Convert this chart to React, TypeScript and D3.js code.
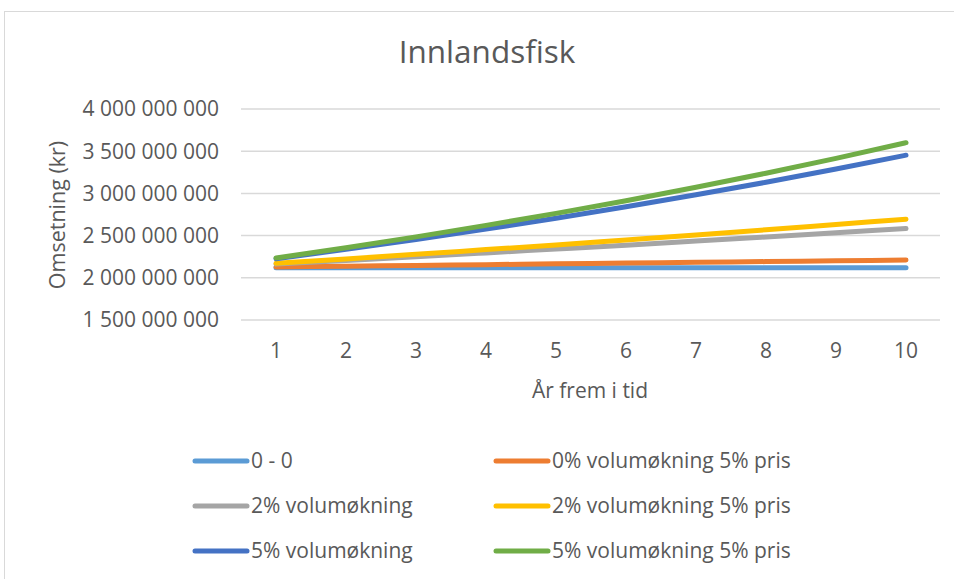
import React from "react";
import * as d3 from "d3";

const years = [1, 2, 3, 4, 5, 6, 7, 8, 9, 10];
const yTicks = [1500000000, 2000000000, 2500000000, 3000000000, 3500000000, 4000000000];

// values in millions kr
const s00 = [2120, 2120, 2120, 2120, 2120, 2120, 2120, 2120, 2120, 2120];
const s0v5p = [2129, 2138, 2147, 2156, 2165, 2174, 2183, 2192, 2201, 2210];
const s2v = [2162, 2206, 2250, 2295, 2341, 2387, 2435, 2484, 2534, 2584];
const s2v5p = [2172, 2224, 2278, 2334, 2390, 2449, 2508, 2569, 2632, 2695];
const s5v = [2226, 2337, 2454, 2577, 2706, 2841, 2983, 3132, 3289, 3453];
const s5v5p = [2235, 2357, 2485, 2621, 2763, 2913, 3072, 3239, 3415, 3601];

const seriesNames = [
  "0 - 0",
  "0% volumøkning 5% pris",
  "2% volumøkning",
  "2% volumøkning 5% pris",
  "5% volumøkning",
  "5% volumøkning 5% pris",
];
const seriesValues = [s00, s0v5p, s2v, s2v5p, s5v, s5v5p];
const colors = ["#5B9BD5", "#ED7D31", "#A5A5A5", "#FFC000", "#4472C4", "#70AD47"];

const W = 954;
const H = 579;
const FONT = "'Open Sans', sans-serif";
const TXT = "#595959";
const FS = 21;

export default function App() {
  const x = d3.scalePoint<number>().domain(years).range([241, 941]).padding(0.5);
  const y = d3.scaleLinear().domain([1500000000, 4000000000]).range([320, 109]);
  const loc = d3.formatLocale({ decimal: ",", thousands: "\u00a0", grouping: [3], currency: ["", " kr"] });
  const fmt = loc.format(",.0f");
  const line = d3
    .line<number>()
    .x((_, i) => x(years[i]) as number)
    .y((v) => y(v * 1e6))
    .curve(d3.curveMonotoneX);

  const legendCols = [193, 494];
  const legendRows = [461, 506, 551];

  return (
    <svg
      width={W}
      height={H}
      style={{ position: "absolute", left: 0, top: 0, background: "#fff" }}
      fontFamily={FONT}
    >
      <rect x={0} y={0} width={W} height={H} fill="#fff" />
      <rect x={4.5} y={11.5} width={1200} height={1200} fill="none" stroke="#d9d9d9" strokeWidth={1} />
      <text x={487} y={63} textAnchor="middle" fontSize={31.5} fill={TXT}>
        Innlandsfisk
      </text>
      {yTicks.map((t) => (
        <g key={t}>
          <line x1={241} x2={940} y1={y(t)} y2={y(t)} stroke="#d9d9d9" strokeWidth={1.5} />
          <text x={219} y={y(t)} dy="0.35em" textAnchor="end" fontSize={FS} fill={TXT}>
            {fmt(t)}
          </text>
        </g>
      ))}
      {years.map((yr) => (
        <text key={yr} x={x(yr)} y={358} textAnchor="middle" fontSize={FS} fill={TXT}>
          {yr}
        </text>
      ))}
      <text x={590} y={398} textAnchor="middle" fontSize={FS} fill={TXT}>
        År frem i tid
      </text>
      <text
        transform={`translate(65,215) rotate(-90)`}
        textAnchor="middle"
        fontSize={21.5}
        fill={TXT}
      >
        Omsetning (kr)
      </text>
      {seriesValues.map((vals, i) => (
        <path
          key={seriesNames[i]}
          d={line(vals) || ""}
          fill="none"
          stroke={colors[i]}
          strokeWidth={5}
          strokeLinecap="round"
          strokeLinejoin="round"
        />
      ))}
      {seriesNames.map((name, i) => {
        const cx = legendCols[i % 2];
        const cy = legendRows[Math.floor(i / 2)];
        return (
          <g key={name}>
            <line x1={cx + 2} x2={cx + 54} y1={cy} y2={cy} stroke={colors[i]} strokeWidth={5} strokeLinecap="round" />
            <text x={cx + 58} y={cy} dy="0.35em" fontSize={FS} fill={TXT}>
              {name}
            </text>
          </g>
        );
      })}
    </svg>
  );
}
